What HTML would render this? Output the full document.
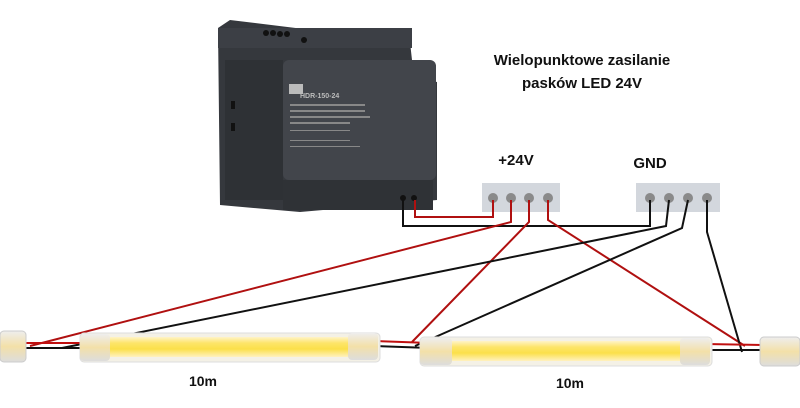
<!DOCTYPE html>
<html><head><style>body{margin:0;background:#fff}svg{display:block}text{font-family:"Liberation Sans",sans-serif;font-weight:bold}</style></head><body>
<svg width="800" height="408" viewBox="0 0 800 408">
<defs>
<linearGradient id="y" x1="0" y1="0" x2="0" y2="1"><stop offset="0" stop-color="#fff3c8"/><stop offset=".3" stop-color="#fde56a"/><stop offset=".6" stop-color="#fbe04a"/><stop offset="1" stop-color="#fff1c0"/></linearGradient>
<linearGradient id="c" x1="0" y1="0" x2="0" y2="1"><stop offset="0" stop-color="#eee"/><stop offset=".5" stop-color="#f3e0a8"/><stop offset="1" stop-color="#ddd"/></linearGradient>
</defs>
<!-- PSU -->
<polygon points="218,28 230,20 410,42 412,60 425,62 428,80 437,82 437,200 300,212 220,205" fill="#35383d"/>
<rect x="218" y="28" width="194" height="20" fill="#3c3f45"/>
<rect x="283" y="60" width="153" height="120" rx="6" fill="#42454b"/>
<rect x="283" y="180" width="150" height="30" fill="#2f3236"/>
<rect x="225" y="60" width="58" height="140" fill="#2e3135"/>
<g fill="#111"><circle cx="266" cy="33" r="3"/><circle cx="273" cy="33" r="3"/><circle cx="280" cy="34" r="3"/><circle cx="287" cy="34" r="3"/><circle cx="304" cy="40" r="3"/>
<circle cx="403" cy="198" r="3"/><circle cx="414" cy="198" r="3"/>
<rect x="231" y="101" width="4" height="8"/><rect x="231" y="123" width="4" height="8"/></g>
<text x="300" y="98" font-size="7" fill="#bbb" font-family="Liberation Serif">HDR-150-24</text>
<rect x="289" y="84" width="14" height="10" fill="#bbb"/>
<g fill="#888"><rect x="290" y="104" width="75" height="2"/><rect x="290" y="110" width="75" height="2"/><rect x="290" y="116" width="80" height="2"/><rect x="290" y="122" width="60" height="2"/><rect x="290" y="130" width="60" height="1"/><rect x="290" y="140" width="60" height="1"/><rect x="290" y="146" width="70" height="1"/></g>
<!-- title -->
<text x="582" y="65" font-size="15" text-anchor="middle" fill="#111">Wielopunktowe zasilanie</text>
<text x="582" y="88" font-size="15" text-anchor="middle" fill="#111">pasków LED 24V</text>
<text x="516" y="165" font-size="15" text-anchor="middle" fill="#111">+24V</text>
<text x="650" y="168" font-size="15" text-anchor="middle" fill="#111">GND</text>
<!-- blocks -->
<rect x="482" y="183" width="78" height="29" fill="#d3d7dd"/>
<rect x="636" y="183" width="84" height="29" fill="#d3d7dd"/>
<g fill="#8a8a8a"><circle cx="493" cy="198" r="5"/><circle cx="511" cy="198" r="5"/><circle cx="529" cy="198" r="5"/><circle cx="548" cy="198" r="5"/>
<circle cx="650" cy="198" r="5"/><circle cx="669" cy="198" r="5"/><circle cx="688" cy="198" r="5"/><circle cx="707" cy="198" r="5"/></g>
<!-- wires -->
<g fill="none" stroke-width="2">
<polyline points="403,200 403,226 650,226 650,200" stroke="#111"/>
<polyline points="415,200 415,217 493,217 493,200" stroke="#b01010"/>
<polyline points="511,200 511,222 30,346" stroke="#b01010"/>
<polyline points="529,200 529,222 412,342" stroke="#b01010"/>
<polyline points="548,200 548,220 745,346" stroke="#b01010"/>
<polyline points="669,200 666,226 62,348" stroke="#111"/>
<polyline points="688,200 682,228 415,346" stroke="#111"/>
<polyline points="707,200 707,232 742,352" stroke="#111"/>
<line x1="25" y1="343" x2="85" y2="343" stroke="#c01010"/><line x1="25" y1="348" x2="85" y2="348" stroke="#111"/>
<line x1="375" y1="341" x2="430" y2="343" stroke="#c01010"/><line x1="375" y1="346" x2="430" y2="348" stroke="#111"/>
<line x1="705" y1="344" x2="765" y2="345" stroke="#c01010"/><line x1="705" y1="350" x2="765" y2="350" stroke="#111"/>
</g>
<!-- strips -->
<rect x="0" y="331" width="26" height="31" rx="4" fill="url(#c)" stroke="#ccc"/>
<rect x="80" y="333" width="300" height="29" rx="4" fill="#f4f1e6" stroke="#ddd"/>
<rect x="108" y="337" width="250" height="20" fill="url(#y)"/>
<rect x="80" y="334" width="30" height="27" rx="4" fill="url(#c)"/>
<rect x="348" y="333" width="30" height="27" rx="4" fill="url(#c)"/>
<rect x="420" y="337" width="292" height="29" rx="4" fill="#f4f1e6" stroke="#ddd"/>
<rect x="450" y="341" width="240" height="20" fill="url(#y)"/>
<rect x="420" y="338" width="32" height="27" rx="4" fill="url(#c)"/>
<rect x="680" y="338" width="30" height="27" rx="4" fill="url(#c)"/>
<rect x="760" y="337" width="40" height="29" rx="4" fill="url(#c)" stroke="#ccc"/>
<text x="203" y="386" font-size="14" text-anchor="middle" fill="#111">10m</text>
<text x="570" y="388" font-size="14" text-anchor="middle" fill="#111">10m</text>
</svg>
</body></html>
